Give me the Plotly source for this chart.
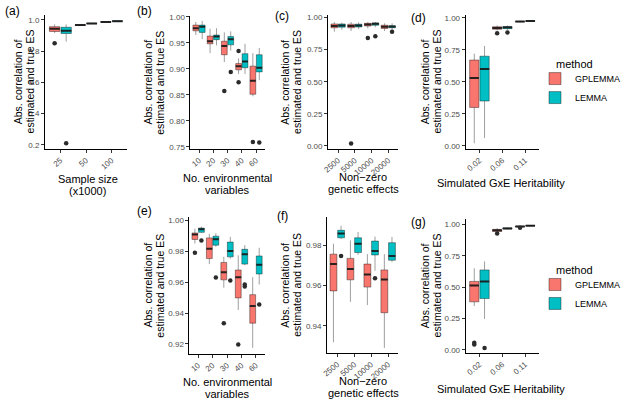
import plotly.graph_objects as go

W, H = 626, 404
GP_COLOR = "#F8766D"
LM_COLOR = "#00BFC4"
FONT = "Liberation Sans, Arial, sans-serif"

# ---------------- data ----------------
# (a) Sample size
a_cats = ["25", "50", "100"]
a_gp_lo = [0.915, 0.960, 0.982]
a_gp_q1 = [0.925, 0.963, 0.984]
a_gp_med = [0.943, 0.966, 0.986]
a_gp_q3 = [0.956, 0.968, 0.988]
a_gp_hi = [0.970, 0.970, 0.990]
a_lm_lo = [0.860, 0.972, 0.988]
a_lm_q1 = [0.912, 0.974, 0.990]
a_lm_med = [0.930, 0.976, 0.991]
a_lm_q3 = [0.952, 0.978, 0.993]
a_lm_hi = [0.970, 0.980, 0.995]
a_gp_out_cat = ["25"]
a_gp_out_val = [0.85]
a_lm_out_cat = ["25"]
a_lm_out_val = [0.21]

# (b) No. environmental variables
b_cats = ["10", "20", "30", "40", "60"]
b_gp_lo = [0.965, 0.930, 0.913, 0.890, 0.847]
b_gp_q1 = [0.973, 0.948, 0.927, 0.898, 0.851]
b_gp_med = [0.978, 0.953, 0.944, 0.905, 0.877]
b_gp_q3 = [0.984, 0.963, 0.953, 0.910, 0.905]
b_gp_hi = [0.990, 0.977, 0.970, 0.920, 0.930]
b_lm_lo = [0.957, 0.945, 0.935, 0.890, 0.878]
b_lm_q1 = [0.970, 0.956, 0.946, 0.902, 0.894]
b_lm_med = [0.981, 0.962, 0.957, 0.914, 0.902]
b_lm_q3 = [0.984, 0.965, 0.962, 0.929, 0.927]
b_lm_hi = [0.992, 0.978, 0.972, 0.948, 0.940]
b_gp_out_cat = ["30", "40", "40", "60"]
b_gp_out_val = [0.857, 0.934, 0.874, 0.759]
b_lm_out_cat = ["30", "60"]
b_lm_out_val = [0.894, 0.758]

# (c) Non-zero genetic effects
c_cats = ["2500", "5000", "10000", "20000"]
c_gp_lo = [0.890, 0.895, 0.915, 0.895]
c_gp_q1 = [0.920, 0.920, 0.934, 0.915]
c_gp_med = [0.934, 0.934, 0.946, 0.928]
c_gp_q3 = [0.950, 0.948, 0.955, 0.940]
c_gp_hi = [0.965, 0.965, 0.965, 0.955]
c_lm_lo = [0.905, 0.910, 0.925, 0.905]
c_lm_q1 = [0.925, 0.926, 0.940, 0.920]
c_lm_med = [0.937, 0.937, 0.952, 0.930]
c_lm_q3 = [0.950, 0.948, 0.958, 0.935]
c_lm_hi = [0.960, 0.962, 0.965, 0.955]
c_gp_out_cat = ["5000", "10000"]
c_gp_out_val = [0.02, 0.84]
c_lm_out_cat = ["10000", "20000"]
c_lm_out_val = [0.855, 0.89]

# (d) Simulated GxE heritability
d_cats = ["0.02", "0.06", "0.11"]
d_gp_lo = [0.02, 0.900, 0.965]
d_gp_q1 = [0.30, 0.910, 0.968]
d_gp_med = [0.53, 0.920, 0.970]
d_gp_q3 = [0.67, 0.930, 0.972]
d_gp_hi = [0.72, 0.940, 0.975]
d_lm_lo = [0.06, 0.905, 0.970]
d_lm_q1 = [0.35, 0.915, 0.972]
d_lm_med = [0.60, 0.925, 0.975]
d_lm_q3 = [0.70, 0.930, 0.977]
d_lm_hi = [0.78, 0.940, 0.980]
d_gp_out_cat = ["0.06"]
d_gp_out_val = [0.88]
d_lm_out_cat = ["0.06"]
d_lm_out_val = [0.885]

# (e) No. environmental variables
e_cats = ["10", "20", "30", "40", "60"]
e_gp_lo = [0.9850, 0.9717, 0.9564, 0.9419, 0.9174]
e_gp_q1 = [0.9877, 0.9753, 0.9615, 0.9498, 0.9334]
e_gp_med = [0.9909, 0.9817, 0.9664, 0.9632, 0.9445]
e_gp_q3 = [0.9919, 0.9887, 0.9728, 0.9679, 0.9519]
e_gp_hi = [0.9947, 0.9913, 0.9764, 0.9774, 0.9632]
e_lm_lo = [0.9920, 0.9830, 0.9753, 0.9710, 0.9585]
e_lm_q1 = [0.9923, 0.9840, 0.9764, 0.9717, 0.9653]
e_lm_med = [0.9943, 0.9879, 0.9802, 0.9781, 0.9713]
e_lm_q3 = [0.9951, 0.9898, 0.9860, 0.9813, 0.9770]
e_lm_hi = [0.9960, 0.9917, 0.9894, 0.9840, 0.9823]
e_gp_out_cat = ["10", "30", "40"]
e_gp_out_val = [0.979, 0.9334, 0.9196]
e_lm_out_cat = ["10", "20", "30", "40", "40", "60"]
e_lm_out_val = [0.987, 0.963, 0.961, 0.9585, 0.9572, 0.9455]

# (f) Non-zero genetic effects
f_cats = ["2500", "5000", "10000", "20000"]
f_gp_lo = [0.9319, 0.9519, 0.9503, 0.9291]
f_gp_q1 = [0.9573, 0.9628, 0.9592, 0.9465]
f_gp_med = [0.9706, 0.9681, 0.9654, 0.9629]
f_gp_q3 = [0.9755, 0.9734, 0.9706, 0.9677]
f_gp_hi = [0.9807, 0.9823, 0.9755, 0.9755]
f_lm_lo = [0.9830, 0.9751, 0.9673, 0.9717]
f_lm_q1 = [0.9836, 0.9763, 0.9751, 0.9725]
f_lm_med = [0.9857, 0.9807, 0.9771, 0.9746]
f_lm_q3 = [0.9873, 0.9836, 0.9820, 0.9812]
f_lm_hi = [0.9896, 0.9865, 0.9842, 0.9840]
f_gp_out_cat = []
f_gp_out_val = []
f_lm_out_cat = ["2500", "10000"]
f_lm_out_val = [0.9746, 0.9636]

# (g) Simulated GxE heritability
g_cats = ["0.02", "0.06", "0.11"]
g_gp_lo = [0.349, 0.935, 0.978]
g_gp_q1 = [0.383, 0.945, 0.982]
g_gp_med = [0.514, 0.955, 0.985]
g_gp_q3 = [0.546, 0.962, 0.988]
g_gp_hi = [0.651, 0.972, 0.992]
g_lm_lo = [0.246, 0.962, 0.988]
g_lm_q1 = [0.409, 0.966, 0.990]
g_lm_med = [0.546, 0.970, 0.992]
g_lm_q3 = [0.638, 0.974, 0.994]
g_lm_hi = [0.706, 0.978, 0.996]
g_gp_out_cat = ["0.02", "0.02", "0.06", "0.11"]
g_gp_out_val = [0.055, 0.042, 0.93, 0.975]
g_lm_out_cat = ["0.02"]
g_lm_out_val = [0.013]

methods = ["GPLEMMA", "LEMMA"]
ytitle_lines = ["Abs. correlation of", "estimated and true ES"]

# ---------------- layout geometry (pixels) ----------------
panels = [
    dict(lab="(a)", cats=a_cats,
         gp=(a_gp_lo, a_gp_q1, a_gp_med, a_gp_q3, a_gp_hi), lm=(a_lm_lo, a_lm_q1, a_lm_med, a_lm_q3, a_lm_hi),
         gpo=(a_gp_out_cat, a_gp_out_val), lmo=(a_lm_out_cat, a_lm_out_val),
         box=(41, 125, 12, 148), yr=(0.175, 1.0315), dtick=0.2, fmt=".1f",
         labpos=(8, 8), ytx=19, xt=["Sample size", "(x1000)"], xtpos=(85, 185), leg=None),
    dict(lab="(b)", cats=b_cats,
         gp=(b_gp_lo, b_gp_q1, b_gp_med, b_gp_q3, b_gp_hi), lm=(b_lm_lo, b_lm_q1, b_lm_med, b_lm_q3, b_lm_hi),
         gpo=(b_gp_out_cat, b_gp_out_val), lmo=(b_lm_out_cat, b_lm_out_val),
         box=(190, 266, 13, 148), yr=(0.746, 1.0019), dtick=0.05, fmt=".2f",
         labpos=(143, 8), ytx=153, xt=["No. environmental", "variables"], xtpos=(228, 184), leg=None),
    dict(lab="(c)", cats=c_cats,
         gp=(c_gp_lo, c_gp_q1, c_gp_med, c_gp_q3, c_gp_hi), lm=(c_lm_lo, c_lm_q1, c_lm_med, c_lm_q3, c_lm_hi),
         gpo=(c_gp_out_cat, c_gp_out_val), lmo=(c_lm_out_cat, c_lm_out_val),
         box=(331, 403, 12, 148), yr=(-0.022, 1.021), dtick=0.25, fmt=".2f",
         labpos=(284, 13), ytx=293, xt=["Non\u2212zero", "genetic effects"], xtpos=(367, 183), leg=None),
    dict(lab="(d)", cats=d_cats,
         gp=(d_gp_lo, d_gp_q1, d_gp_med, d_gp_q3, d_gp_hi), lm=(d_lm_lo, d_lm_q1, d_lm_med, d_lm_q3, d_lm_hi),
         gpo=(d_gp_out_cat, d_gp_out_val), lmo=(d_lm_out_cat, d_lm_out_val),
         box=(472, 547, 12, 148), yr=(-0.023, 1.023), dtick=0.25, fmt=".2f",
         labpos=(424, 15), ytx=436, xt=["Simulated GxE Heritability"], xtpos=(508, 183), leg="legend"),
    dict(lab="(e)", cats=e_cats,
         gp=(e_gp_lo, e_gp_q1, e_gp_med, e_gp_q3, e_gp_hi), lm=(e_lm_lo, e_lm_q1, e_lm_med, e_lm_q3, e_lm_hi),
         gpo=(e_gp_out_cat, e_gp_out_val), lmo=(e_lm_out_cat, e_lm_out_val),
         box=(189, 266, 217, 356), yr=(0.9136, 1.0024), dtick=0.02, fmt=".2f",
         labpos=(143, 211), ytx=153, xt=["No. environmental", "variables"], xtpos=(228, 391), leg=None),
    dict(lab="(f)", cats=f_cats,
         gp=(f_gp_lo, f_gp_q1, f_gp_med, f_gp_q3, f_gp_hi), lm=(f_lm_lo, f_lm_q1, f_lm_med, f_lm_q3, f_lm_hi),
         gpo=(f_gp_out_cat, f_gp_out_val), lmo=(f_lm_out_cat, f_lm_out_val),
         box=(330, 403, 217, 355), yr=(0.9267, 0.994), dtick=0.02, fmt=".2f",
         labpos=(284, 216), ytx=293, xt=["Non\u2212zero", "genetic effects"], xtpos=(367, 390), leg=None),
    dict(lab="(g)", cats=g_cats,
         gp=(g_gp_lo, g_gp_q1, g_gp_med, g_gp_q3, g_gp_hi), lm=(g_lm_lo, g_lm_q1, g_lm_med, g_lm_q3, g_lm_hi),
         gpo=(g_gp_out_cat, g_gp_out_val), lmo=(g_lm_out_cat, g_lm_out_val),
         box=(472, 547, 219, 355), yr=(-0.024, 1.047), dtick=0.25, fmt=".2f",
         labpos=(424, 222), ytx=436, xt=["Simulated GxE Heritability"], xtpos=(508, 392), leg="legend2"),
]

DODGE = 0.225
BOXW = 0.405
LINE_GAP = 12.5


def fx(px):
    return px / W


def fy(py):
    return 1 - py / H


def ann(text, x, y, size, **kw):
    d = dict(text=text, x=fx(x), y=fy(y), xref="paper", yref="paper", showarrow=False,
             xanchor="center", yanchor="middle",
             font=dict(size=size, color="black", family=FONT))
    d.update(kw)
    return d


fig = go.Figure()
layout = {}
annotations = []

for i, p in enumerate(panels, start=1):
    xa = "x" if i == 1 else f"x{i}"
    ya = "y" if i == 1 else f"y{i}"
    xk = "xaxis" if i == 1 else f"xaxis{i}"
    yk = "yaxis" if i == 1 else f"yaxis{i}"
    L, R, T, B = p["box"]
    n = len(p["cats"])
    for mname, stats, outs, col, sign in [
        ("GPLEMMA", p["gp"], p["gpo"], GP_COLOR, -1),
        ("LEMMA", p["lm"], p["lmo"], LM_COLOR, 1),
    ]:
        lo, q1, med, q3, hi = stats
        xs = [k + 1 + sign * DODGE for k in range(n)]
        fig.add_trace(go.Box(
            x=xs, lowerfence=lo, q1=q1, median=med, q3=q3, upperfence=hi,
            width=BOXW, fillcolor=col, line=dict(color="rgba(0,0,0,0.38)", width=1),
            whiskerwidth=0, boxpoints=False, name=mname,
            showlegend=p["leg"] is not None, legend=p["leg"] if p["leg"] else "legend",
            xaxis=xa, yaxis=ya, hoverinfo="skip"))
        mx, my = [], []
        for k in range(n):
            mx += [xs[k] - BOXW / 2, xs[k] + BOXW / 2, None]
            my += [med[k], med[k], None]
        fig.add_trace(go.Scatter(x=mx, y=my, mode="lines",
                                 line=dict(color="rgba(25,25,25,0.9)", width=2),
                                 showlegend=False, hoverinfo="skip", xaxis=xa, yaxis=ya))
        oc, ov = outs
        if oc:
            ox = [p["cats"].index(c) + 1 + sign * DODGE for c in oc]
            fig.add_trace(go.Scatter(x=ox, y=ov, mode="markers",
                                     marker=dict(color="#2b2b2b", size=4.5),
                                     showlegend=False, hoverinfo="skip", xaxis=xa, yaxis=ya))
    axis_common = dict(showline=True, linecolor="black", linewidth=1, ticks="outside",
                       ticklen=3, tickwidth=1, tickcolor="#333333", showgrid=False,
                       zeroline=False, tickfont=dict(size=8, color="#4D4D4D", family=FONT))
    layout[xk] = dict(axis_common, domain=[fx(L), fx(R)], range=[0.4, n + 0.6],
                      tickmode="array", tickvals=list(range(1, n + 1)), ticktext=p["cats"],
                      tickangle=-40, anchor=ya)
    layout[yk] = dict(axis_common, domain=[fy(B), fy(T)], range=list(p["yr"]),
                      tick0=0, dtick=p["dtick"], tickformat=p["fmt"], anchor=xa)
    annotations.append(ann(p["lab"], p["labpos"][0], p["labpos"][1], 12))
    nl = len(ytitle_lines)
    for li, t in enumerate(ytitle_lines):
        xc = p["ytx"] + (li - (nl - 1) / 2) * LINE_GAP
        annotations.append(ann(t, xc, (T + B) / 2, 10.5, textangle=-90))
    nl = len(p["xt"])
    for li, t in enumerate(p["xt"]):
        yc = p["xtpos"][1] + (li - (nl - 1) / 2) * LINE_GAP
        annotations.append(ann(t, p["xtpos"][0], yc, 11))

# legend titles as text
annotations.append(ann("method", 562, 62, 11, xanchor="left"))
annotations.append(ann("method", 562, 271, 11, xanchor="left"))

leg_common = dict(xanchor="left", yanchor="top", bgcolor="rgba(0,0,0,0)",
                  font=dict(size=9, color="black", family=FONT),
                  tracegroupgap=0, itemwidth=30)

fig.update_layout(
    width=W, height=H, margin=dict(l=0, r=0, t=0, b=0),
    paper_bgcolor="white", plot_bgcolor="white",
    font=dict(family=FONT),
    showlegend=True,
    legend=dict(leg_common, x=fx(543), y=fy(62)),
    legend2=dict(leg_common, x=fx(543), y=fy(271)),
    annotations=annotations,
    **layout,
)

fig.write_html("out.html", config={"displayModeBar": False},
               post_script="document.body.style.margin='0px';document.body.style.padding='0px';")
